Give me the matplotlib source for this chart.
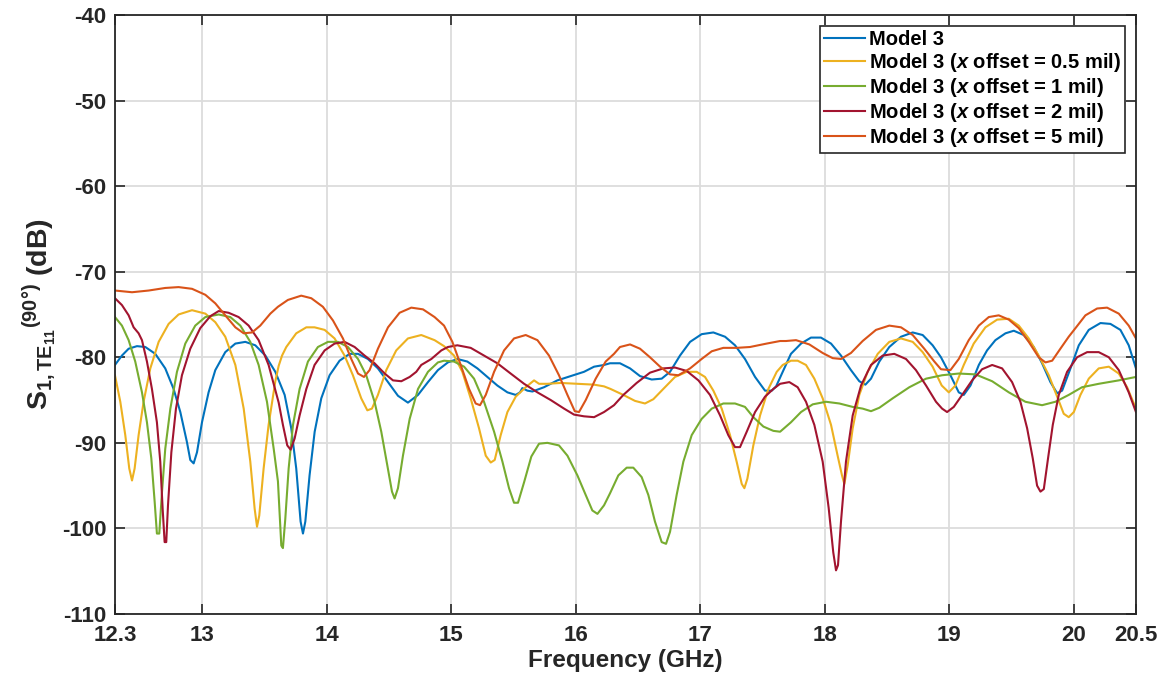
import matplotlib.pyplot as plt

plt.rcParams['font.family'] = ['Liberation Sans', 'DejaVu Sans']
plt.rcParams['font.weight'] = 'bold'
plt.rcParams['axes.unicode_minus'] = False
plt.rcParams['mathtext.fontset'] = 'custom'
plt.rcParams['mathtext.rm'] = 'Liberation Sans:bold'
plt.rcParams['mathtext.bf'] = 'Liberation Sans:bold'
plt.rcParams['mathtext.it'] = 'Liberation Sans:italic:bold'

# Model 3
blue_f = [12.30, 12.356, 12.41, 12.477, 12.544, 12.624, 12.704, 12.771, 12.825, 12.878,
          12.905, 12.932, 12.959, 12.999, 13.052, 13.106, 13.186, 13.267, 13.347, 13.427,
          13.508, 13.588, 13.663, 13.716, 13.756, 13.791, 13.81, 13.829, 13.863, 13.904,
          13.957, 14.024, 14.104, 14.185, 14.252, 14.332, 14.412, 14.493, 14.573, 14.653,
          14.734, 14.814, 14.894, 14.974, 15.05, 15.13, 15.211, 15.291, 15.371, 15.452,
          15.519, 15.553, 15.572, 15.612, 15.653, 15.746, 15.853, 15.96, 16.067, 16.148,
          16.228, 16.276, 16.356, 16.437, 16.517, 16.611, 16.691, 16.758, 16.838, 16.919,
          17.012, 17.106, 17.20, 17.28, 17.36, 17.441, 17.521, 17.575, 17.61, 17.663,
          17.729, 17.81, 17.89, 17.97, 18.051, 18.131, 18.211, 18.278, 18.327, 18.372,
          18.439, 18.519, 18.613, 18.707, 18.787, 18.867, 18.934, 19.01, 19.077, 19.117,
          19.171, 19.238, 19.304, 19.371, 19.452, 19.519, 19.599, 19.679, 19.746, 19.813,
          19.867, 19.907, 19.974, 20.041, 20.121, 20.215, 20.295, 20.375, 20.442, 20.50]
blue_s = [-80.9, -79.8, -79.0, -78.7, -78.8, -79.6, -81.3, -83.7, -86.4, -89.9,
          -92.0, -92.4, -91.1, -87.6, -84.1, -81.5, -79.4, -78.4, -78.2, -78.6,
          -79.8, -81.7, -84.4, -88.3, -93.0, -99.2, -100.6, -99.2, -93.8, -88.7,
          -84.8, -82.1, -80.4, -79.6, -79.6, -80.2, -81.3, -82.9, -84.5, -85.3,
          -84.4, -82.9, -81.5, -80.6, -80.2, -80.5, -81.3, -82.3, -83.3, -84.1,
          -84.4, -84.1, -83.6, -83.9, -84.0, -83.5, -82.7, -82.2, -81.7, -81.1,
          -80.9, -80.7, -80.7, -81.3, -82.2, -82.6, -82.5, -81.7, -79.8, -78.2,
          -77.3, -77.1, -77.6, -78.6, -80.2, -82.3, -83.9, -83.9, -83.4, -81.7,
          -79.6, -78.4, -77.7, -77.7, -78.4, -79.8, -81.5, -82.8, -83.2, -82.5,
          -80.5, -78.8, -77.6, -77.1, -77.4, -78.6, -80.0, -82.1, -84.1, -84.4,
          -83.3, -80.9, -79.2, -78.0, -77.2, -76.9, -77.4, -78.8, -80.7, -82.9,
          -84.2, -83.9, -81.3, -78.6, -76.8, -76.0, -76.1, -76.8, -78.6, -81.3]

# x offset = 0.5 mil
yel_f = [12.30, 12.343, 12.383, 12.415, 12.437, 12.458, 12.49, 12.53, 12.584, 12.651,
         12.731, 12.811, 12.919, 13.026, 13.106, 13.186, 13.267, 13.334, 13.387, 13.422,
         13.441, 13.459, 13.494, 13.534, 13.588, 13.615, 13.642, 13.676, 13.756, 13.837,
         13.903, 13.984, 14.064, 14.144, 14.211, 14.278, 14.327, 14.364, 14.412, 14.479,
         14.559, 14.653, 14.76, 14.867, 14.943, 15.023, 15.09, 15.157, 15.224, 15.278,
         15.318, 15.35, 15.398, 15.452, 15.519, 15.599, 15.666, 15.706, 15.773, 15.88,
         16.014, 16.148, 16.228, 16.28, 16.383, 16.477, 16.557, 16.624, 16.704, 16.798,
         16.892, 16.972, 17.039, 17.106, 17.173, 17.24, 17.293, 17.334, 17.355, 17.379,
         17.427, 17.481, 17.548, 17.615, 17.663, 17.729, 17.783, 17.85, 17.917, 17.984,
         18.051, 18.104, 18.139, 18.158, 18.185, 18.225, 18.278, 18.345, 18.426, 18.519,
         18.613, 18.707, 18.787, 18.867, 18.94, 18.997, 19.05, 19.117, 19.197, 19.291,
         19.385, 19.479, 19.559, 19.639, 19.719, 19.80, 19.867, 19.92, 19.96, 20.001,
         20.054, 20.121, 20.201, 20.282, 20.362, 20.429, 20.50]
yel_s = [-82.1, -85.2, -89.1, -93.0, -94.4, -93.0, -89.1, -85.2, -81.3, -78.2,
         -76.1, -75.0, -74.5, -74.9, -75.9, -77.6, -80.9, -86.0, -92.2, -97.7,
         -99.8, -98.5, -93.0, -87.9, -82.8, -81.0, -79.8, -78.8, -77.2, -76.5,
         -76.5, -76.8, -77.8, -79.8, -82.1, -84.8, -86.2, -86.0, -84.4, -81.5,
         -79.2, -77.8, -77.4, -78.0, -78.7, -79.8, -81.7, -84.8, -88.3, -91.5,
         -92.3, -92.0, -89.1, -86.4, -84.6, -83.5, -82.7, -83.1, -83.1, -83.0,
         -83.1, -83.2, -83.4, -83.7, -84.4, -85.1, -85.4, -84.9, -83.7, -82.3,
         -81.7, -81.7, -82.3, -83.9, -86.0, -89.1, -92.2, -94.8, -95.3, -94.2,
         -90.3, -86.8, -83.7, -81.7, -80.9, -80.4, -80.4, -80.9, -82.5, -84.8,
         -87.9, -91.5, -93.8, -94.8, -92.6, -88.3, -84.4, -81.7, -79.6, -78.2,
         -77.8, -78.2, -79.4, -81.1, -83.3, -84.1, -83.3, -80.9, -78.4, -76.5,
         -75.6, -75.5, -76.3, -77.8, -79.8, -82.1, -84.6, -86.6, -87.0, -86.4,
         -84.4, -82.5, -81.3, -81.1, -81.9, -83.5, -86.0]

# x offset = 1 mil
grn_f = [12.30, 12.356, 12.41, 12.463, 12.517, 12.557, 12.592, 12.619, 12.637, 12.656,
         12.678, 12.704, 12.745, 12.798, 12.865, 12.945, 13.026, 13.133, 13.226, 13.307,
         13.387, 13.454, 13.521, 13.575, 13.609, 13.636, 13.649, 13.668, 13.695, 13.73,
         13.783, 13.85, 13.93, 14.011, 14.091, 14.171, 14.252, 14.318, 14.385, 14.439,
         14.487, 14.525, 14.546, 14.573, 14.613, 14.667, 14.734, 14.814, 14.894, 14.943,
         15.023, 15.104, 15.184, 15.264, 15.345, 15.412, 15.465, 15.505, 15.537, 15.586,
         15.644, 15.706, 15.773, 15.866, 15.934, 16.014, 16.081, 16.134, 16.175, 16.228,
         16.276, 16.343, 16.41, 16.463, 16.53, 16.584, 16.637, 16.691, 16.726, 16.758,
         16.811, 16.865, 16.932, 17.012, 17.093, 17.186, 17.28, 17.36, 17.427, 17.508,
         17.588, 17.642, 17.729, 17.81, 17.904, 18.011, 18.118, 18.225, 18.305, 18.372,
         18.439, 18.546, 18.68, 18.814, 18.943, 19.077, 19.211, 19.345, 19.479, 19.612,
         19.746, 19.853, 19.96, 20.067, 20.201, 20.362, 20.50]
grn_s = [-75.3, -76.3, -78.0, -80.5, -84.1, -87.6, -91.8, -96.9, -100.6, -100.6,
         -95.7, -90.7, -86.0, -81.7, -78.4, -76.3, -75.3, -75.0, -75.3, -76.3,
         -78.2, -80.9, -85.2, -90.7, -94.5, -102.0, -102.3, -98.9, -93.0, -87.9,
         -83.7, -80.5, -78.8, -78.2, -78.2, -78.8, -80.2, -82.1, -85.2, -88.7,
         -92.6, -95.7, -96.5, -95.3, -91.5, -87.2, -83.7, -81.7, -80.6, -80.4,
         -80.5, -81.1, -82.5, -85.2, -88.7, -92.2, -95.3, -97.0, -97.0, -94.6,
         -91.6, -90.1, -90.0, -90.3, -91.5, -93.8, -96.1, -97.9, -98.3, -97.3,
         -95.9, -93.8, -92.9, -92.9, -94.0, -96.1, -99.2, -101.6, -101.8, -100.4,
         -96.1, -92.2, -89.1, -87.2, -86.0, -85.4, -85.4, -85.8, -87.0, -88.1,
         -88.6, -88.7, -87.6, -86.4, -85.5, -85.2, -85.4, -85.8, -86.0, -86.3,
         -85.9, -84.8, -83.5, -82.5, -82.1, -81.9, -82.0, -82.8, -84.1, -85.2,
         -85.6, -85.2, -84.4, -83.5, -83.1, -82.7, -82.3]

# x offset = 2 mil
red_f = [12.30, 12.356, 12.41, 12.45, 12.49, 12.517, 12.557, 12.597, 12.637, 12.664,
         12.683, 12.699, 12.712, 12.726, 12.753, 12.79, 12.838, 12.905, 12.985, 13.066,
         13.133, 13.213, 13.293, 13.374, 13.454, 13.534, 13.615, 13.649, 13.684, 13.711,
         13.743, 13.783, 13.837, 13.903, 13.984, 14.064, 14.144, 14.225, 14.305, 14.385,
         14.466, 14.533, 14.60, 14.667, 14.72, 14.76, 14.841, 14.921, 14.974, 15.05,
         15.157, 15.264, 15.371, 15.478, 15.586, 15.693, 15.80, 15.907, 15.987, 16.067,
         16.148, 16.228, 16.308, 16.383, 16.49, 16.597, 16.704, 16.798, 16.892, 16.986,
         17.079, 17.16, 17.226, 17.28, 17.32, 17.374, 17.441, 17.521, 17.588, 17.642,
         17.716, 17.783, 17.85, 17.917, 17.984, 18.032, 18.069, 18.091, 18.107, 18.131,
         18.171, 18.225, 18.292, 18.372, 18.466, 18.559, 18.653, 18.733, 18.814, 18.894,
         18.943, 18.983, 19.037, 19.104, 19.184, 19.264, 19.345, 19.425, 19.505, 19.572,
         19.626, 19.671, 19.706, 19.733, 19.76, 19.794, 19.832, 19.88, 19.947, 20.027,
         20.108, 20.201, 20.282, 20.362, 20.442, 20.50]
red_s = [-73.1, -73.9, -75.1, -76.5, -77.2, -78.0, -80.5, -83.7, -87.6, -92.2,
         -97.7, -101.6, -101.6, -97.3, -91.1, -86.0, -82.1, -79.0, -76.6, -75.2,
         -74.6, -74.8, -75.3, -76.3, -78.0, -80.9, -85.3, -87.9, -90.3, -90.8,
         -89.5, -86.8, -83.7, -80.9, -79.2, -78.4, -78.2, -78.8, -79.8, -80.7,
         -81.9, -82.7, -82.8, -82.3, -81.7, -80.9, -80.2, -79.2, -78.8, -78.6,
         -78.9, -79.8, -80.7, -81.9, -83.1, -84.1, -85.0, -86.0, -86.7, -86.9,
         -87.0, -86.4, -85.6, -84.4, -83.0, -81.8, -81.3, -81.2, -81.6, -82.7,
         -84.4, -86.8, -89.1, -90.5, -90.5, -88.7, -86.4, -84.6, -83.7, -83.1,
         -82.9, -83.5, -85.2, -87.9, -92.2, -97.6, -102.8, -104.9, -104.3, -99.2,
         -92.2, -86.8, -83.3, -80.9, -79.8, -79.6, -80.2, -81.5, -83.3, -85.2,
         -86.0, -86.4, -85.8, -84.4, -82.7, -81.4, -80.9, -81.3, -82.9, -85.2,
         -88.3, -91.8, -95.0, -95.7, -95.4, -91.8, -87.9, -84.4, -81.7, -80.0,
         -79.4, -79.4, -80.0, -81.5, -84.1, -86.4]

# x offset = 5 mil
org_f = [12.30, 12.437, 12.571, 12.704, 12.811, 12.919, 13.026, 13.106, 13.186, 13.267,
         13.334, 13.401, 13.467, 13.548, 13.609, 13.689, 13.796, 13.877, 13.97, 14.051,
         14.131, 14.198, 14.252, 14.30, 14.345, 14.412, 14.493, 14.586, 14.68, 14.774,
         14.867, 14.943, 15.01, 15.077, 15.144, 15.197, 15.232, 15.278, 15.345, 15.425,
         15.505, 15.599, 15.693, 15.786, 15.866, 15.934, 15.993, 16.027, 16.081, 16.161,
         16.241, 16.308, 16.356, 16.437, 16.517, 16.597, 16.678, 16.758, 16.825, 16.919,
         17.012, 17.093, 17.186, 17.293, 17.40, 17.534, 17.642, 17.689, 17.77, 17.877,
         17.984, 18.064, 18.131, 18.211, 18.305, 18.412, 18.519, 18.613, 18.707, 18.80,
         18.881, 18.934, 19.01, 19.077, 19.157, 19.238, 19.318, 19.398, 19.479, 19.559,
         19.639, 19.719, 19.773, 19.827, 19.893, 19.96, 20.014, 20.094, 20.188, 20.268,
         20.362, 20.442, 20.50]
org_s = [-72.2, -72.4, -72.2, -71.9, -71.8, -72.0, -72.7, -73.7, -75.1, -76.5,
         -77.2, -77.1, -76.3, -74.9, -74.1, -73.3, -72.8, -73.1, -74.1, -75.7,
         -77.8, -80.2, -81.9, -82.3, -81.5, -79.0, -76.5, -74.8, -74.2, -74.4,
         -75.3, -76.3, -78.2, -80.9, -83.7, -85.4, -85.6, -84.4, -81.7, -79.2,
         -77.8, -77.4, -78.0, -79.8, -82.1, -84.4, -86.3, -86.4, -85.0, -82.5,
         -80.5, -79.6, -78.8, -78.5, -79.0, -80.0, -81.1, -82.0, -82.1, -81.3,
         -80.2, -79.3, -78.9, -78.9, -78.8, -78.4, -78.1, -78.1, -78.0, -78.5,
         -79.5, -80.1, -80.2, -79.5, -78.1, -76.8, -76.3, -76.5, -77.4, -79.0,
         -80.5, -81.4, -81.5, -80.2, -78.0, -76.3, -75.3, -75.1, -75.6, -76.6,
         -78.2, -80.0, -80.6, -80.4, -79.0, -77.6, -76.6, -75.1, -74.3, -74.2,
         -74.9, -76.3, -77.8]

labels = ['Model 3',
          r'Model 3 ($x$ offset = 0.5 mil)',
          r'Model 3 ($x$ offset = 1 mil)',
          r'Model 3 ($x$ offset = 2 mil)',
          r'Model 3 ($x$ offset = 5 mil)']
colors = ['#0072BD', '#EDB120', '#77AC30', '#A2142F', '#D95319']
xticks = [12.3, 13, 14, 15, 16, 17, 18, 19, 20, 20.5]
xticklabels = ['12.3', '13', '14', '15', '16', '17', '18', '19', '20', '20.5']

fig = plt.figure(figsize=(11.67, 6.81), dpi=100)
ax = fig.add_axes([0.0985, 0.0984, 0.8749, 0.8796])

series = [(blue_f, blue_s), (yel_f, yel_s), (grn_f, grn_s), (red_f, red_s), (org_f, org_s)]
for (f, s), c, lab in zip(series, colors, labels):
    ax.plot(f, s, color=c, lw=1.5, label=lab)

ax.set_xlim(12.3, 20.5)
ax.set_ylim(-110, -40)
ax.set_xticks(xticks)
ax.set_xticklabels(xticklabels)
ax.set_yticks(range(-110, -39, 10))
ax.tick_params(direction='in', length=7, width=1.2, labelsize=16, colors='#262626',
               top=True, right=True)
ax.tick_params(axis='x', pad=8)
ax.tick_params(axis='y', pad=6)
for sp in ax.spines.values():
    sp.set_linewidth(1.3)
    sp.set_color('#262626')
ax.grid(True, color='#dcdcdc', lw=1.3)
ax.set_axisbelow(True)

ax.set_xlabel('Frequency (GHz)', fontsize=17.5, fontweight='bold', color='#262626', labelpad=2)
ax.set_ylabel(r'$\mathrm{S_{1,TE_{11}}{}^{(90°)}}$ (dB)', fontsize=20.5,
              fontweight='bold', color='#262626', labelpad=3)

leg = ax.legend(loc='upper right', fontsize=14.5, handlelength=2.0, handletextpad=0.2,
                borderpad=0.2, labelspacing=0.1, fancybox=False, framealpha=1,
                borderaxespad=0.55)
leg.get_frame().set_edgecolor('#262626')
leg.get_frame().set_linewidth(1.2)

plt.savefig('out.png', dpi=100)
plt.close()
